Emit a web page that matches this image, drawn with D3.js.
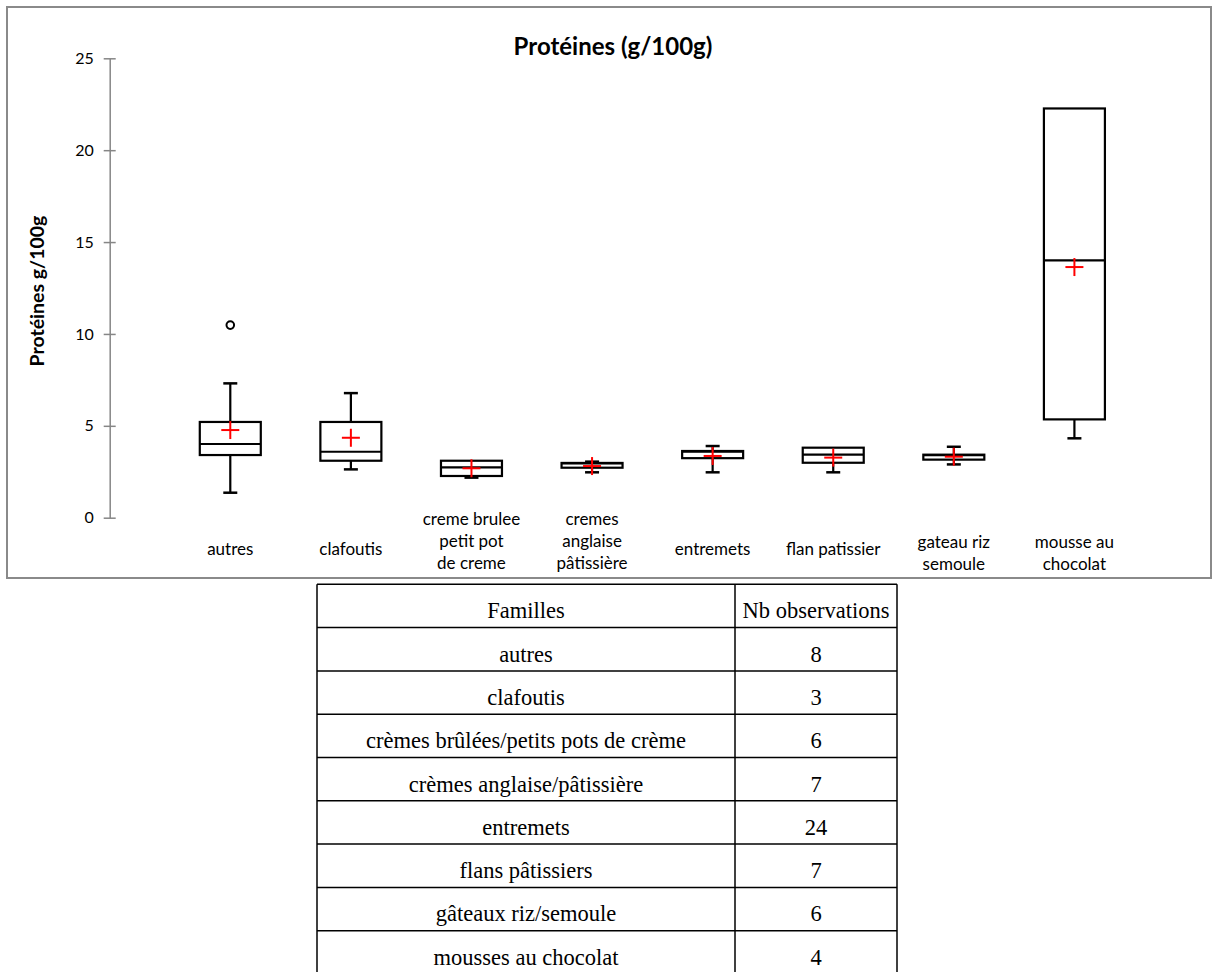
<!DOCTYPE html>
<html><head><meta charset="utf-8">
<script src="https://cdn.jsdelivr.net/npm/d3@7"></script>
<style>body{margin:0;background:#fff;} svg{display:block;}</style>
</head><body>
<script>
const categories = ["autres","clafoutis","creme brulee\npetit pot\nde creme","cremes\nanglaise\npâtissière","entremets","flan patissier","gateau riz\nsemoule","mousse au\nchocolat"];
const whiskerMin = [1.36, 2.63, 2.18, 2.47, 2.47, 2.47, 2.90, 4.32];
const q1Values   = [3.41, 3.10, 2.27, 2.72, 3.24, 2.99, 3.16, 5.35];
const medians    = [4.01, 3.59, 2.74, 2.95, 3.60, 3.43, 3.40, 14.0];
const q3Values   = [5.21, 5.21, 3.10, 2.98, 3.63, 3.81, 3.43, 22.27];
const whiskerMax = [7.31, 6.78, 3.10, 3.05, 3.90, 3.81, 3.86, 22.27];
const means      = [4.77, 4.35, 2.69, 2.81, 3.36, 3.27, 3.32, 13.64];
const outliers   = [{cat:0, value:10.48}];
const yTicks = [0,5,10,15,20,25];
const title = "Protéines (g/100g)";
const yLabel = "Protéines g/100g";
const families = ["autres","clafoutis","crèmes brûlées/petits pots de crème","crèmes anglaise/pâtissière","entremets","flans pâtissiers","gâteaux riz/semoule","mousses au chocolat"];
const counts = [8,3,6,7,24,7,6,4];
const tableHeader = ["Familles","Nb observations"];

const W = 1215, H = 972;
const svg = d3.select("body").append("svg").attr("width", W).attr("height", H);

// chart frame
svg.append("rect").attr("x", 7).attr("y", 7).attr("width", 1204).attr("height", 571)
  .attr("fill", "#fff").attr("stroke", "#8a8a8a").attr("stroke-width", 2);

const x = d3.scaleLinear().domain([0, 9]).range([109.7, 1195]);
const y = d3.scaleLinear().domain([0, 25]).range([517.7, 58.3]);

// y axis
const axisG = svg.append("g").attr("transform", `translate(${x(0)},0)`);
axisG.call(d3.axisLeft(y).tickValues(yTicks).tickSize(0).tickPadding(16));
axisG.select(".domain").attr("stroke", "#868686").attr("stroke-width", 1.5);
axisG.selectAll(".tick line").attr("x1", -6).attr("x2", 6).attr("stroke", "#868686").attr("stroke-width", 1.5);
axisG.selectAll(".tick text").attr("font-family", "Lato").attr("font-size", 16).attr("fill", "#000");

// title & y label
svg.append("text").attr("x", 613).attr("y", 55).attr("text-anchor", "middle")
  .attr("font-family", "Lato").attr("font-weight", "bold").attr("font-size", 24).text(title);
svg.append("text").attr("transform", `translate(44,291) rotate(-90)`).attr("text-anchor", "middle")
  .attr("font-family", "Lato").attr("font-weight", "bold").attr("font-size", 19.5).text(yLabel);

const boxW = 61, capW = 14, crossS = 9;
const data = categories.map((c, i) => ({c, i, lo: whiskerMin[i], q1: q1Values[i], med: medians[i], q3: q3Values[i], hi: whiskerMax[i], mean: means[i]}));
const g = svg.append("g");
data.forEach(d => {
  const cx = x(d.i + 1);
  const s = g.append("g").attr("stroke", "#000").attr("stroke-width", 2.2).attr("fill", "none");
  if (d.hi > d.q3) {
    s.append("line").attr("x1", cx).attr("x2", cx).attr("y1", y(d.q3)).attr("y2", y(d.hi));
    s.append("line").attr("x1", cx - capW/2).attr("x2", cx + capW/2).attr("y1", y(d.hi)).attr("y2", y(d.hi)).attr("stroke-width", 2.5);
  }
  if (d.lo < d.q1) {
    s.append("line").attr("x1", cx).attr("x2", cx).attr("y1", y(d.q1)).attr("y2", y(d.lo));
    s.append("line").attr("x1", cx - capW/2).attr("x2", cx + capW/2).attr("y1", y(d.lo)).attr("y2", y(d.lo)).attr("stroke-width", 2.5);
  }
  s.append("rect").attr("x", cx - boxW/2).attr("width", boxW).attr("y", y(d.q3)).attr("height", y(d.q1) - y(d.q3)).attr("fill", "#fff");
  s.append("line").attr("x1", cx - boxW/2).attr("x2", cx + boxW/2).attr("y1", y(d.med)).attr("y2", y(d.med));
  const r = g.append("g").attr("stroke", "#ff0000").attr("stroke-width", 2);
  r.append("line").attr("x1", cx - crossS).attr("x2", cx + crossS).attr("y1", y(d.mean)).attr("y2", y(d.mean));
  r.append("line").attr("x1", cx).attr("x2", cx).attr("y1", y(d.mean) - crossS).attr("y2", y(d.mean) + crossS);
});
outliers.forEach(o => {
  g.append("circle").attr("cx", x(o.cat + 1)).attr("cy", y(o.value)).attr("r", 3.8)
    .attr("fill", "#fff").attr("stroke", "#000").attr("stroke-width", 2);
});

// category labels
const labelCenters = {1: 549, 2: 553, 3: 541};
categories.forEach((c, i) => {
  const lines = c.split("\n");
  const cy = labelCenters[lines.length];
  const t = svg.append("text").attr("text-anchor", "middle").attr("font-family", "Lato").attr("font-size", 17)
    .attr("x", x(i + 1));
  lines.forEach((ln, k) => {
    t.append("tspan").attr("x", x(i + 1)).attr("y", cy + (k - (lines.length - 1) / 2) * 22.3 + 6).text(ln);
  });
});

// table
const tx0 = 317, tx1 = 735, tx2 = 897, ty0 = 584.3, rowH = 43.3;
const rows = [tableHeader].concat(families.map((f, i) => [f, String(counts[i])]));
const tg = svg.append("g");
rows.forEach((r, k) => {
  const yy = ty0 + k * rowH;
  tg.append("text").attr("x", (tx0 + tx1) / 2).attr("y", yy + 34).attr("text-anchor", "middle")
    .attr("font-family", "Liberation Serif").attr("font-size", 22.5).text(r[0]);
  tg.append("text").attr("x", (tx1 + tx2) / 2).attr("y", yy + 34).attr("text-anchor", "middle")
    .attr("font-family", "Liberation Serif").attr("font-size", 22.5).text(r[1]);
});
for (let k = 0; k <= rows.length; k++) {
  tg.append("line").attr("x1", tx0).attr("x2", tx2).attr("y1", ty0 + k * rowH).attr("y2", ty0 + k * rowH)
    .attr("stroke", "#000").attr("stroke-width", 1.5);
}
[tx0, tx1, tx2].forEach(xx => tg.append("line").attr("x1", xx).attr("x2", xx).attr("y1", ty0).attr("y2", ty0 + rows.length * rowH)
  .attr("stroke", "#000").attr("stroke-width", 1.5));
</script>
</body></html>
